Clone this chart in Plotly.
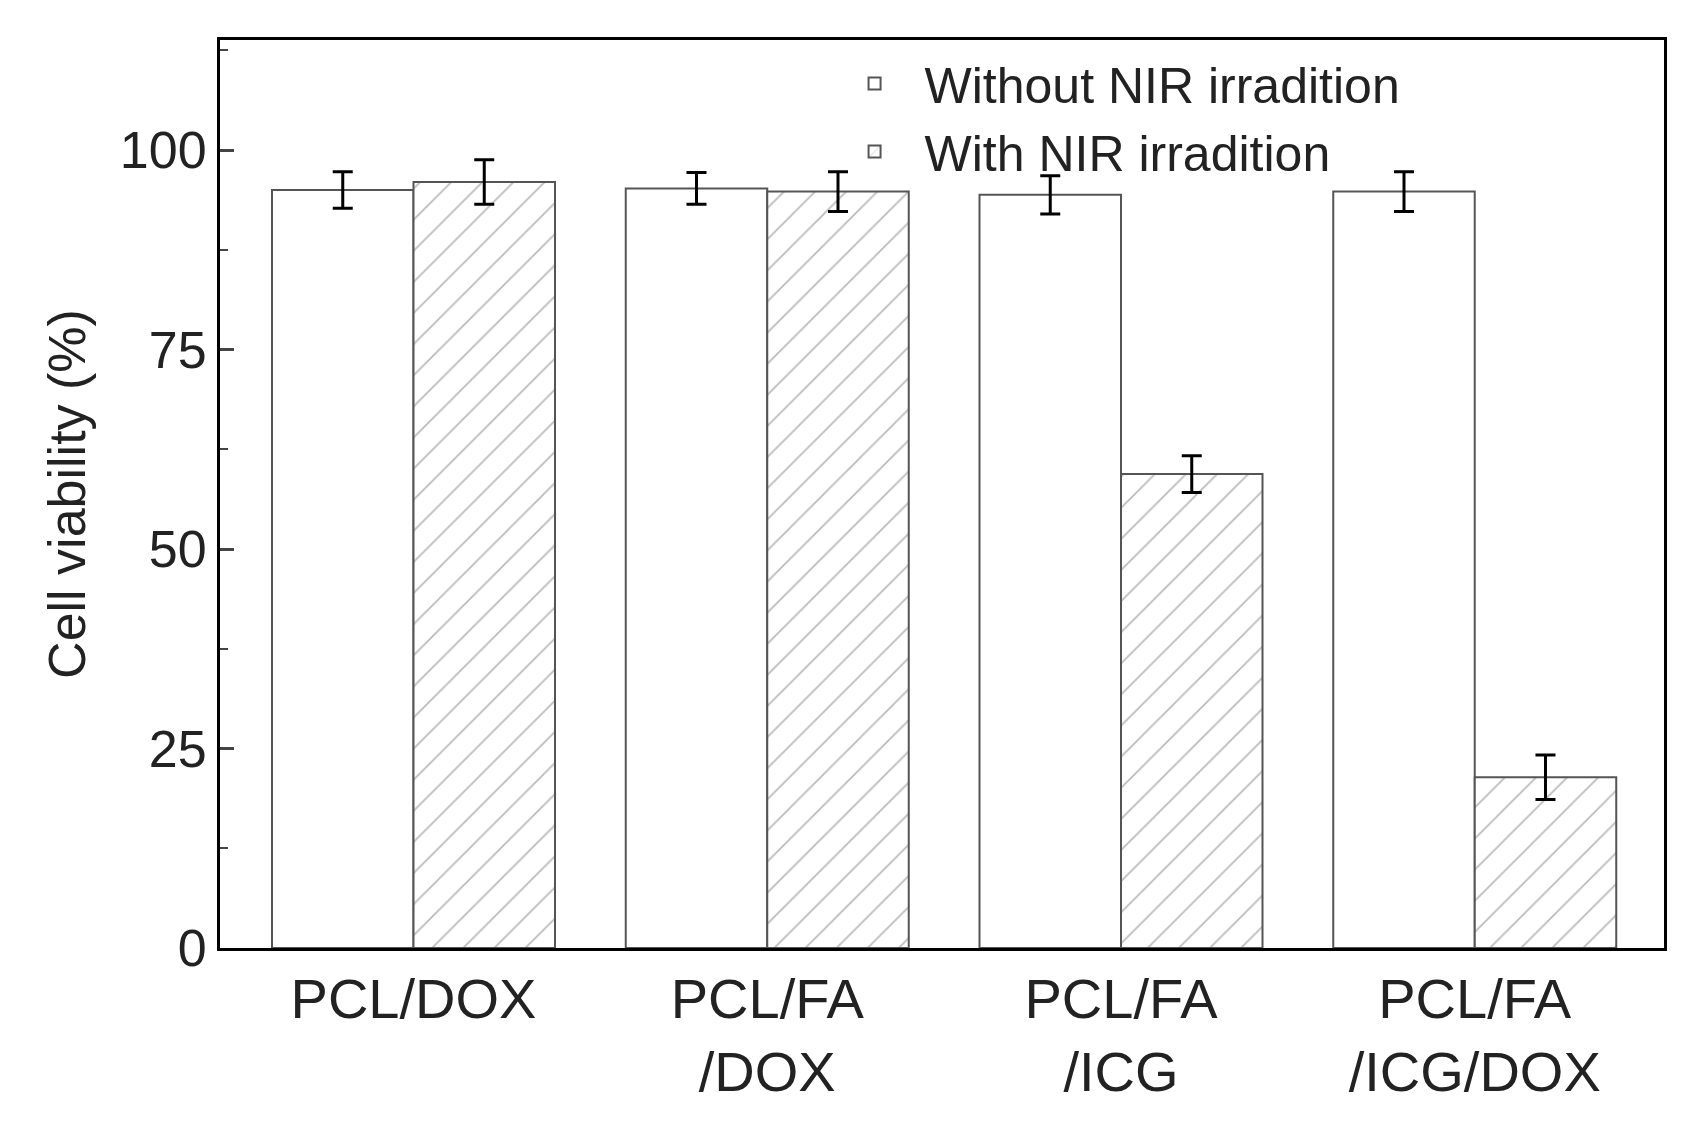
import plotly.graph_objects as go

categories = ["PCL/DOX", "PCL/FA<br>/DOX", "PCL/FA<br>/ICG", "PCL/FA<br>/ICG/DOX"]
without_nir = [95.0, 95.2, 94.4, 94.8]
without_err = [2.3, 2.0, 2.4, 2.5]
with_nir = [96.0, 94.8, 59.4, 21.4]
with_err = [2.8, 2.5, 2.3, 2.8]

font = "Liberation Sans, Arial, sans-serif"
fig = go.Figure()
fig.add_trace(go.Bar(x=categories, y=without_nir, name="Without NIR irradition",
                     marker=dict(color="white", line=dict(color="#555", width=2)),
                     error_y=dict(type="data", array=without_err, color="black", thickness=3, width=10)))
fig.add_trace(go.Bar(x=categories, y=with_nir, name="With NIR irradition",
                     marker=dict(color="white", line=dict(color="#555", width=2),
                                 pattern=dict(shape="/", fgcolor="#777", size=22, solidity=0.08)),
                     error_y=dict(type="data", array=with_err, color="black", thickness=3, width=10)))
fig.update_layout(
    width=1686, height=1145, plot_bgcolor="white", paper_bgcolor="white",
    margin=dict(l=212, r=30, t=32, b=205),
    barmode="group", bargap=0.2, bargroupgap=0,
    font=dict(family=font, size=50, color="#222"),
    legend=dict(orientation="h", x=0.99, xanchor="right", y=0.995, yanchor="top",
                bgcolor="rgba(0,0,0,0)", font=dict(size=50), itemwidth=90,
                entrywidth=720, entrywidthmode="pixels"),
    xaxis=dict(range=[-0.547, 3.535], showline=True, linecolor="black", linewidth=3,
               mirror=True, ticks="", tickfont=dict(size=56)),
    yaxis=dict(range=[0, 113.8], tickvals=[0, 25, 50, 75, 100], showline=True,
               linecolor="black", linewidth=3, mirror=True, ticks="inside",
               ticklen=14, tickwidth=3, showgrid=False, zeroline=False, tickfont=dict(size=52),
               minor=dict(tickvals=[12.5, 37.5, 62.5, 87.5, 112.5], ticks="inside", ticklen=8, tickwidth=2),
               title=dict(text="Cell viability (%)", font=dict(size=52), standoff=18)),
)
fig.write_html("out.html")
